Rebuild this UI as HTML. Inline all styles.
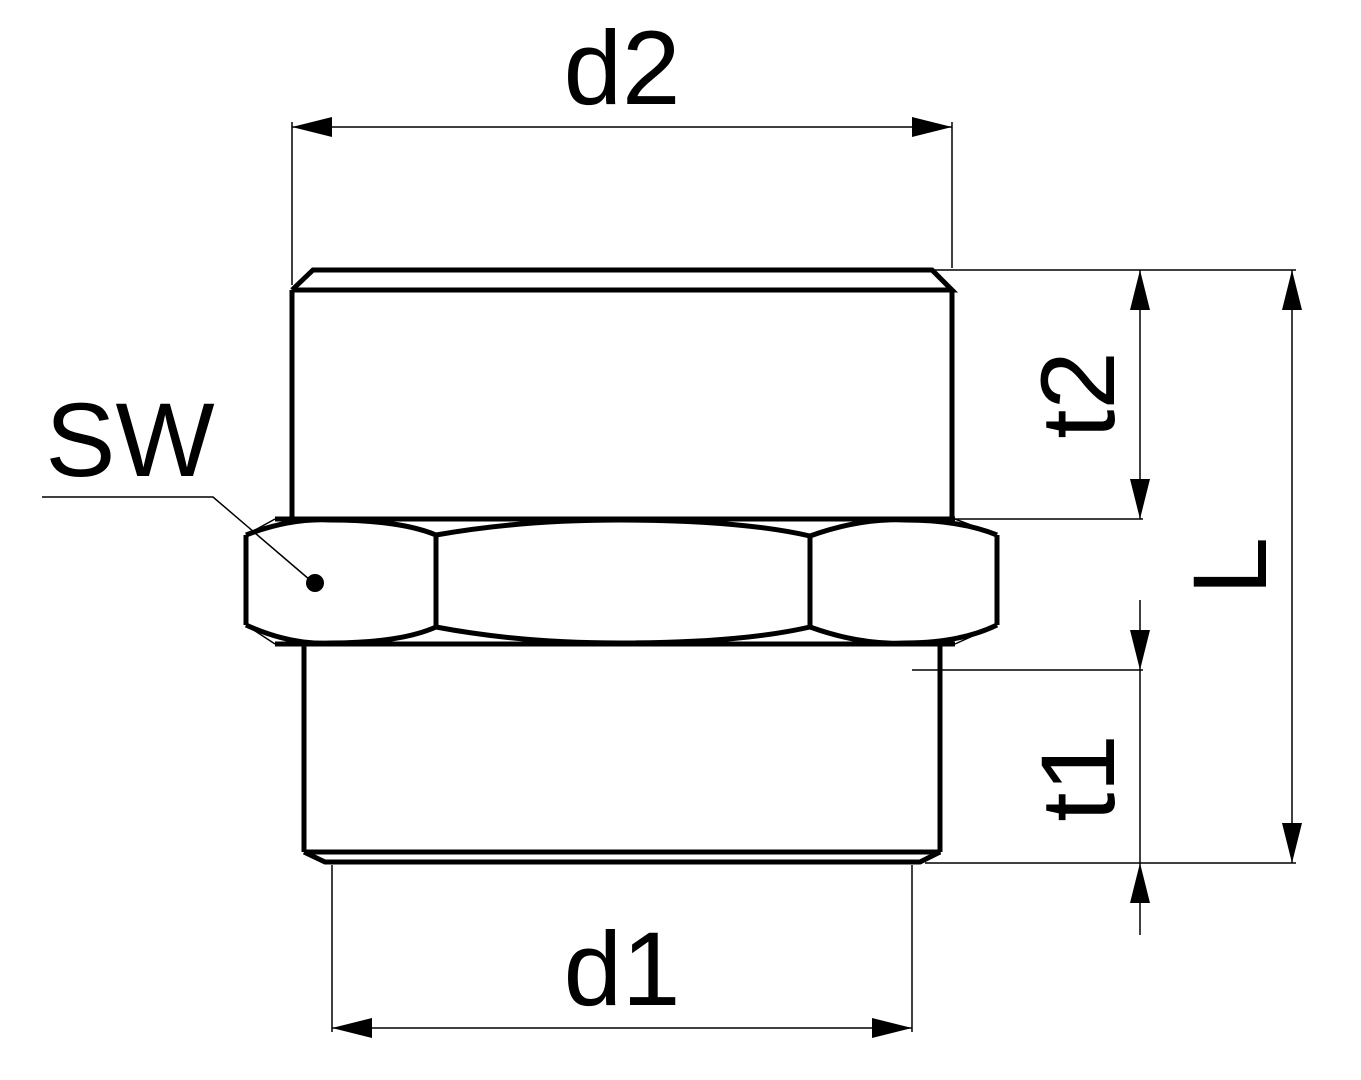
<!DOCTYPE html>
<html><head><meta charset="utf-8"><style>html,body{margin:0;padding:0;background:#fff}svg{display:block}</style></head><body>
<svg width="1361" height="1080" viewBox="0 0 1361 1080" xmlns="http://www.w3.org/2000/svg">
<defs>
<marker id="a" viewBox="0 0 40 20" refX="40" refY="10" markerWidth="40" markerHeight="20" markerUnits="userSpaceOnUse" orient="auto"><path d="M0,0 L40,10 L0,20 Z" fill="#000"/></marker>
</defs>
<g fill="none" stroke="#000" stroke-width="1.5">
<line x1="292" y1="122" x2="292" y2="285"/>
<line x1="952" y1="122" x2="952" y2="268"/>
<line x1="332" y1="865" x2="332" y2="1032"/>
<line x1="912" y1="865" x2="912" y2="1032"/>
<line x1="935" y1="270" x2="1296" y2="270"/>
<line x1="955" y1="519" x2="1143" y2="519"/>
<line x1="912" y1="670" x2="1143" y2="670"/>
<line x1="925" y1="863" x2="1296" y2="863"/>
<line x1="332" y1="127" x2="292" y2="127" marker-end="url(#a)"/>
<line x1="332" y1="127" x2="952" y2="127" marker-end="url(#a)"/>
<line x1="372" y1="1028" x2="332" y2="1028" marker-end="url(#a)"/>
<line x1="372" y1="1028" x2="912" y2="1028" marker-end="url(#a)"/>
<line x1="1140" y1="310" x2="1140" y2="270" marker-end="url(#a)"/>
<line x1="1140" y1="310" x2="1140" y2="519" marker-end="url(#a)"/>
<line x1="1292" y1="310" x2="1292" y2="270" marker-end="url(#a)"/>
<line x1="1292" y1="310" x2="1292" y2="863" marker-end="url(#a)"/>
<line x1="1140" y1="600" x2="1140" y2="670" marker-end="url(#a)"/>
<line x1="1140" y1="670" x2="1140" y2="863"/>
<line x1="1140" y1="935" x2="1140" y2="863" marker-end="url(#a)"/>
<polyline points="42,497 213,497 310,580"/>
</g>
<circle cx="315" cy="583" r="9" fill="#000"/>
<g fill="none" stroke="#000" stroke-width="5" stroke-linejoin="miter">
<polyline points="292,290 313,270 932,270 952,290 292,290"/>
<line x1="292" y1="290" x2="292" y2="517"/>
<line x1="952" y1="290" x2="952" y2="517"/>
<line x1="275" y1="519" x2="955" y2="519"/>
<line x1="275" y1="644" x2="955" y2="644"/>
<path d="M246,535 L246,625"/>
<path d="M997,535 L997,625"/>
<path d="M436,535 L436,627"/>
<path d="M810,536 L810,627"/>
<path d="M246,535 Q290,518 330,520 Q400,520 436,535"/>
<path d="M246,625 Q290,645 330,643 Q400,643 436,627"/>
<path d="M436,535 Q520,520 620,520 Q740,520 810,536"/>
<path d="M436,627 Q520,643 620,643 Q740,643 810,627"/>
<path d="M810,536 Q860,518 905,520 Q960,520 997,535"/>
<path d="M810,627 Q860,645 905,643 Q960,643 997,625"/>
<line x1="304" y1="646" x2="304" y2="852"/>
<line x1="940" y1="646" x2="940" y2="852"/>
<polyline points="304,852 940,852 920,862 325,862 304,852"/>
</g>
<g stroke="#000" stroke-width="1.5">
<line x1="275" y1="519" x2="246" y2="535"/><line x1="955" y1="519" x2="997" y2="535"/>
<line x1="275" y1="644" x2="246" y2="625"/><line x1="955" y1="644" x2="997" y2="625"/>
</g>
<g font-family="Liberation Sans, sans-serif" font-size="105" fill="#000">
<text x="622" y="104" text-anchor="middle">d2</text>
<text x="622" y="1005" text-anchor="middle">d1</text>
<text x="130" y="476" text-anchor="middle">SW</text>
<text transform="translate(1114,395) rotate(-90)" text-anchor="middle">t2</text>
<text transform="translate(1114,778) rotate(-90)" text-anchor="middle">t1</text>
<text transform="translate(1266,566) rotate(-90)" text-anchor="middle">L</text>
</g>
</svg>
</body></html>
